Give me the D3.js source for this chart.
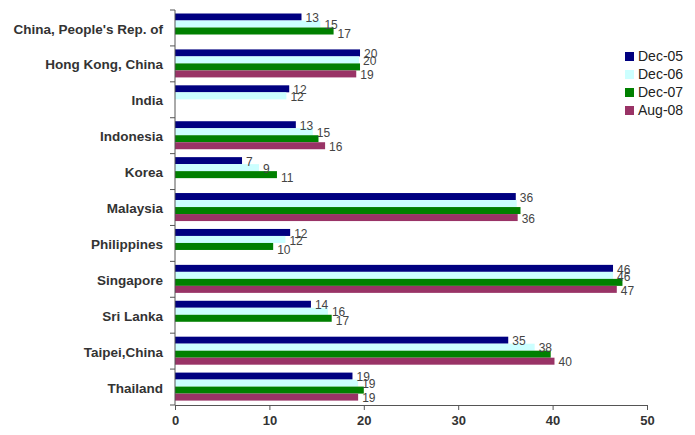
<!DOCTYPE html>
<html>
<head>
<meta charset="utf-8">
<script src="https://cdn.jsdelivr.net/npm/d3@7"></script>
<style>
  html, body { margin: 0; padding: 0; background: #fff; }
  svg { display: block; font-family: Arial, "Liberation Sans", sans-serif; }
</style>
</head>
<body>
<svg id="chart" width="695" height="435"></svg>
<script>
// Economies, top to bottom
const categories = [
  "China, People's Rep. of", "Hong Kong, China", "India", "Indonesia", "Korea",
  "Malaysia", "Philippines", "Singapore", "Sri Lanka", "Taipei,China", "Thailand"
];
const seriesNames = ["Dec-05", "Dec-06", "Dec-07", "Aug-08"];
// Values per economy (null = no observation)
const dec05 = [13.4, 19.6, 12.1, 12.8, 7.1, 36.1, 12.2, 46.4, 14.4, 35.3, 18.8];
const dec06 = [15.4, 19.5, 11.8, 14.6, 8.9, 36.2, 11.7, 46.4, 16.2, 38.1, 19.4];
const dec07 = [16.8, 19.6, null, 15.2, 10.8, 36.6, 10.4, 47.4, 16.6, 39.8, 20.0];
const aug08 = [null, 19.2, null, 15.9, null, 36.3, null, 46.8, null, 40.2, 19.4];
const xTicks = [0, 10, 20, 30, 40, 50];
// Value labels left off because a neighbouring label covers them
const unlabelled = [["Malaysia", "Dec-06"]];

const seriesValues = [dec05, dec06, dec07, aug08];
const colors = ["#000080", "#ccffff", "#008000", "#993366"];

const svg = d3.select("#chart");
const margin = { left: 175, right: 48, top: 10, bottom: 30 };
const width = 695, height = 435;

const x = d3.scaleLinear().domain([0, 50]).range([margin.left, width - margin.right]);
const y = d3.scaleBand().domain(categories).range([margin.top, height - margin.bottom]);
const yInner = d3.scaleBand().domain(seriesNames).range([3.5, y.bandwidth() - 4.4]);

// Flatten into one record per bar
const bars = [];
categories.forEach((c, i) => {
  seriesNames.forEach((s, j) => {
    const v = seriesValues[j][i];
    if (v != null) bars.push({ cat: c, series: s, si: j, value: v, i });
  });
});

// Bars
svg.append("g").selectAll("rect").data(bars).join("rect")
  .attr("x", x(0))
  .attr("y", d => y(d.cat) + yInner(d.series))
  .attr("width", d => x(d.value) - x(0))
  .attr("height", yInner.bandwidth())
  .attr("fill", d => colors[d.si]);

// Value labels; the Dec-07 label is hidden wherever an Aug-08 bar sits below it
const fmt = d3.format(".0f");
const isHidden = d => (d.si === 2 && aug08[d.i] != null) ||
  unlabelled.some(([c, s]) => c === d.cat && s === d.series);
svg.append("g").selectAll("text").data(bars.filter(d => !isHidden(d)))
  .join("text")
  .attr("x", d => x(d.value) + 4)
  .attr("y", d => y(d.cat) + yInner(d.series) + yInner.bandwidth() / 2 + 2 + (d.si === 2 ? 2 : 0))
  .attr("dominant-baseline", "middle")
  .attr("font-size", 12)
  .attr("fill", "#444")
  .text(d => fmt(d.value));

// Y axis: line with ticks at category boundaries
const yAxis = svg.append("g").attr("stroke", "#555");
yAxis.append("line").attr("x1", x(0)).attr("x2", x(0))
  .attr("y1", y.range()[0]).attr("y2", y.range()[1]);
const bounds = categories.map(c => y(c)).concat([y.range()[1]]);
yAxis.selectAll("line.tk").data(bounds).join("line").attr("class", "tk")
  .attr("x1", x(0) - 5).attr("x2", x(0)).attr("y1", d => d).attr("y2", d => d);

// Category labels
svg.append("g").selectAll("text").data(categories).join("text")
  .attr("x", x(0) - 12)
  .attr("y", d => y(d) + y.bandwidth() / 2 + 2)
  .attr("text-anchor", "end")
  .attr("dominant-baseline", "middle")
  .attr("font-size", 13.5)
  .attr("font-weight", "bold")
  .attr("fill", "#333")
  .text(d => d);

// X axis
const xAxis = d3.axisBottom(x).tickValues(xTicks).tickSize(5).tickSizeOuter(0).tickPadding(6);
const gx = svg.append("g").attr("transform", `translate(0,${y.range()[1]})`).call(xAxis);
gx.select(".domain").attr("stroke", "#555");
gx.selectAll(".tick line").attr("stroke", "#555");
gx.selectAll(".tick text").attr("font-size", 13).attr("font-weight", "bold").attr("fill", "#333")
  .attr("font-family", "Arial, 'Liberation Sans', sans-serif");

// Legend
const legend = svg.append("g").attr("transform", "translate(625,52)");
const items = legend.selectAll("g").data(seriesNames).join("g")
  .attr("transform", (d, i) => `translate(0,${i * 18})`);
items.append("rect").attr("width", 9).attr("height", 9)
  .attr("fill", (d, i) => colors[i]);
items.append("text").attr("x", 13).attr("y", 5)
  .attr("dominant-baseline", "middle")
  .attr("font-size", 14).attr("fill", "#222")
  .text(d => d);
</script>
</body>
</html>
